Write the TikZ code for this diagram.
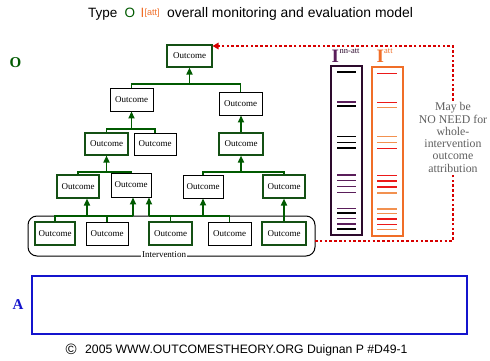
\documentclass[tikz,border=0pt]{standalone}
\usepackage{fontspec}
\setmainfont{Liberation Serif}
\newfontfamily\sansf{Liberation Sans}
\usetikzlibrary{arrows.meta}
\definecolor{dkgreen}{RGB}{0,90,0}
\definecolor{bxgreen}{RGB}{20,80,20}
\definecolor{ipurple}{RGB}{90,30,90}
\definecolor{iborder}{RGB}{45,10,45}
\definecolor{iorange}{RGB}{240,110,40}
\definecolor{ired}{RGB}{235,25,25}
\definecolor{ilight}{RGB}{242,145,80}
\definecolor{dotred}{RGB}{215,0,0}
\definecolor{notegray}{RGB}{95,95,95}
\definecolor{ablue}{RGB}{20,20,205}
\begin{document}
\begin{tikzpicture}[x=1pt,y=-1pt,
  box/.style={draw=black, line width=0.9pt, fill=white, inner sep=0pt,
    minimum height=23pt, font=\fontsize{9}{9}\selectfont},
  gbox/.style={box, draw=bxgreen, line width=1.1pt},
  conn/.style={dkgreen, line width=1.6pt},
  arr/.style={conn, -{Triangle[length=7pt,width=6pt]}},
  reddot/.style={dotred, line width=2.8pt, dash pattern=on 2.6pt off 2.2pt},
  tline/.style={line width=1.2pt}
]
\useasboundingbox (0,0) rectangle (490,361);

% title
\node[anchor=base west, inner sep=0pt, font=\sansf\fontsize{13.5}{13.5}\selectfont] (t1) at (88,18) {Type};
\node[anchor=base west, inner sep=0pt, text=dkgreen, font=\sansf\fontsize{13.5}{13.5}\selectfont] (t2) at (124.5,18) {O};
\node[anchor=base west, inner sep=0pt, text=iorange, font=\sansf\fontsize{13.5}{13.5}\selectfont] (t3) at (140.5,18) {I};
\node[anchor=base west, inner sep=0pt, text=iorange, font=\sansf\fontsize{9}{9}\selectfont] (t4) at (144.5,15.5) {[att]};
\node[anchor=base west, inner sep=0pt, font=\sansf\fontsize{13.9}{13.9}\selectfont] (t5) at (167,18) {overall monitoring and evaluation model};

% side labels
\node[text=dkgreen, font=\bfseries\fontsize{15}{15}\selectfont, inner sep=0pt] (lo) at (15.5,63) {O};
\node[text=ablue, font=\bfseries\fontsize{15}{15}\selectfont, inner sep=0pt] (la) at (18,305) {A};

% intervention box
\draw[black, line width=1pt, rounded corners=9pt] (28,216) rectangle (315,256);
\coordinate (ieast) at (315,241);

% outcome boxes
\node[gbox, minimum width=45pt, minimum height=22pt] (top) at (189.5,56) {Outcome};
\node[box, minimum width=43pt] (b2a) at (131.5,99.5) {Outcome};
\node[box, minimum width=43pt] (b2b) at (240.5,103.5) {Outcome};
\node[gbox, minimum width=43pt, minimum height=22pt] (b3a) at (106.5,144) {Outcome};
\node[box, minimum width=42pt, minimum height=22pt] (b3b) at (155,144) {Outcome};
\node[gbox, minimum width=44pt, minimum height=22pt] (b3c) at (241,144) {Outcome};
\node[gbox, minimum width=42pt] (b4a) at (78,186.5) {Outcome};
\node[box, minimum width=40pt, minimum height=24pt] (b4b) at (131,185) {Outcome};
\node[box, minimum width=40pt] (b4c) at (203,186.5) {Outcome};
\node[gbox, minimum width=42pt] (b4d) at (284,186.5) {Outcome};
\node[gbox, minimum width=40pt] (b5a) at (55,233.5) {Outcome};
\node[box, minimum width=42pt] (b5b) at (107,233.5) {Outcome};
\node[gbox, minimum width=43pt] (b5c) at (170.5,233.5) {Outcome};
\node[box, minimum width=43pt] (b5d) at (229.5,233.5) {Outcome};
\node[gbox, minimum width=44pt] (b5e) at (284,233.5) {Outcome};

\node[fill=white, inner sep=1pt, font=\fontsize{9}{9}\selectfont] (intlab) at (164,255) {Intervention};

% connectors
\coordinate (j1) at (189.5,84);
\draw[conn] (b2a.north) |- (j1) -| (b2b.north);
\draw[arr] (j1) -- (top.south);

\coordinate (j2) at (131.5,129);
\draw[conn] (b3a.north) |- (j2) -| (b3b.north);
\draw[arr] (j2) -- (b2a.south);

\draw[arr] (b3c.north) -- (b3c.north |- b2b.south);

\coordinate (j3) at (106.5,172);
\draw[conn] (b4a.north) |- (j3) -| (b4b.north);
\draw[arr] (j3) -- (b3a.south);

\coordinate (j4) at (241,172);
\draw[conn] (b4c.north) |- (j4) -| (b4d.north);
\draw[arr] (j4) -- (b3c.south);

\coordinate (k1) at (87,216);
\coordinate (k2) at (133,216);
\draw[conn] (b5a.north) |- (k1) -- (k2);
\draw[conn] (b5b.north) -- (b5b.north |- k1);
\draw[arr] (k1) -- (k1 |- b4a.south);
\draw[arr] (k2) -- (k2 |- b4b.south);

\coordinate (k3) at (149,216);
\coordinate (k4) at (203,216);
\draw[conn] (k3) -| (b5d.north);
\draw[conn] (b5c.north) -- (b5c.north |- k3);
\draw[arr] (k3) -- (k3 |- b4b.south);
\draw[arr] (k4) -- (b4c.south);

\draw[arr] (b5e.north) -- (b4d.south);

% I columns
\draw[iborder, line width=1.3pt] (331,66) rectangle (362,235);
\draw[iorange, line width=1.3pt] (372,67) rectangle (403,236);
\foreach \y in {72,106,136.5,142.3,148,213,229}
  \draw[black, tline] (337,\y) -- (356,\y);
\foreach \y in {102,175,180.5,186.7,192.7,208.3,218.3,224}
  \draw[ipurple, line width=1.4pt] (337,\y) -- (356,\y);
\foreach \y in {73.3,102.5,148.5,175.2,181,187,219,224.3}
  \draw[ired, tline] (377,\y) -- (397,\y);
\foreach \y in {107.7,136.7,142.7,193,209,213.7,229.7}
  \draw[ilight, line width=1.4pt] (377,\y) -- (397,\y);

\node[anchor=base west, inner sep=0pt, text=ipurple, font=\bfseries\fontsize{19}{19}\selectfont] (ina) at (331.5,63) {I};
\node[anchor=base west, inner sep=0pt, text=iborder, font=\fontsize{8.5}{8.5}\selectfont] (inasup) at (339.5,54) {nn-att};
\node[anchor=base west, inner sep=0pt, text=iorange, font=\bfseries\fontsize{19}{19}\selectfont] (iat) at (376.5,63) {I};
\node[anchor=base west, inner sep=0pt, text=iorange, font=\fontsize{8.5}{8.5}\selectfont] (iatsup) at (384,54) {att};

% red dotted feedback path
\coordinate (r1) at (453,241);
\coordinate (r2) at (453,46);
\draw[reddot, -{Triangle[length=6pt,width=6.5pt]}] (ieast) -- (r1) -- (r2) -- (top.east |- r2);
\node[fill=white, inner sep=2pt, align=center, text=notegray,
  font=\fontsize{11.8}{12.3}\selectfont] (note) at (453,137.5)
  {May be\\NO NEED for\\whole-\\intervention\\outcome\\attribution};

% A box
\draw[ablue, line width=1.3pt] (32,276) rectangle (467,334);

% footer
\node[anchor=base west, inner sep=0pt, font=\sansf\fontsize{15}{15}\selectfont] (copy) at (65.5,354) {©};
\node[anchor=base west, inner sep=0pt, font=\sansf\fontsize{12.2}{12.2}\selectfont] (foot) at (85,353) {2005 WWW.OUTCOMESTHEORY.ORG Duignan P \#D49-1};
\end{tikzpicture}
\end{document}
